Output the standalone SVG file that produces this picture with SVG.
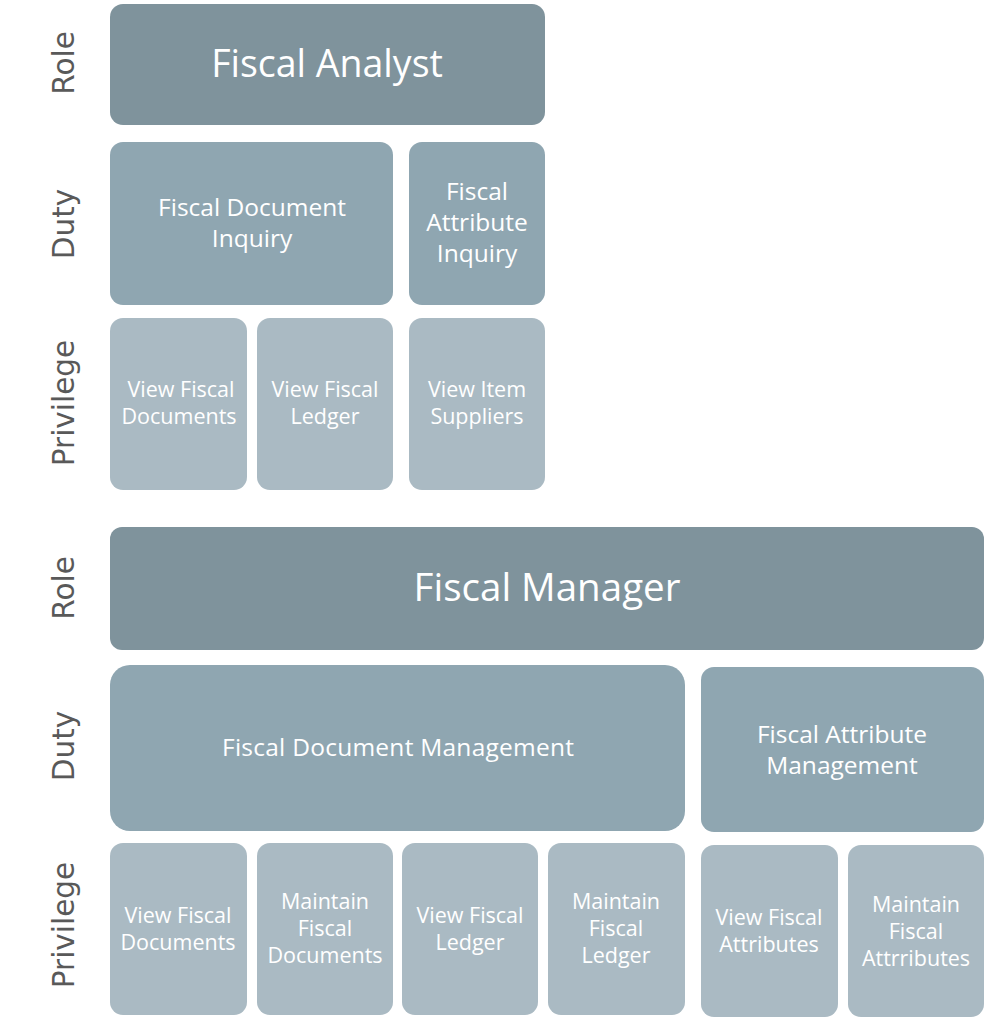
<svg xmlns="http://www.w3.org/2000/svg" width="988" height="1021" viewBox="0 0 988 1021">
<style>
.role{fill:#7f939c}
.duty{fill:#8fa6b1}
.priv{fill:#aabac3}
.t{font-family:"Open Sans","Noto Sans",sans-serif;fill:#ffffff;text-anchor:middle}
.side{font-family:"DejaVu Sans",sans-serif;fill:#595959;font-size:29.5px;text-anchor:middle}
</style>
<rect width="988" height="1021" fill="#ffffff"/>
<g id="side-labels">
<text class="side" transform="translate(74,63) rotate(-90)">Role</text>
<text class="side" transform="translate(74,224) rotate(-90)">Duty</text>
<text class="side" transform="translate(74,403) rotate(-90)">Privilege</text>
<text class="side" transform="translate(74,588) rotate(-90)">Role</text>
<text class="side" transform="translate(74,746) rotate(-90)">Duty</text>
<text class="side" transform="translate(74,925) rotate(-90)">Privilege</text>
</g>
<g id="fiscal-analyst"><rect class="role" x="110" y="4" width="435" height="121" rx="13"/><text class="t" x="327" y="77" font-size="37.5">Fiscal Analyst</text></g>
<g id="fiscal-document-inquiry"><rect class="duty" x="110" y="142" width="283" height="163" rx="13"/><text class="t" font-size="24.5"><tspan x="252" y="216">Fiscal Document</tspan><tspan x="252" y="247">Inquiry</tspan></text></g>
<g id="fiscal-attribute-inquiry"><rect class="duty" x="409" y="142" width="136" height="163" rx="13"/><text class="t" font-size="24.5"><tspan x="477" y="200">Fiscal</tspan><tspan x="477" y="231">Attribute</tspan><tspan x="477" y="262">Inquiry</tspan></text></g>
<g id="a-view-fiscal-documents"><rect class="priv" x="110" y="318" width="137" height="172" rx="13"/><text class="t" font-size="21.5"><tspan x="181" y="397">View Fiscal</tspan><tspan x="179" y="424">Documents</tspan></text></g>
<g id="a-view-fiscal-ledger"><rect class="priv" x="257" y="318" width="136" height="172" rx="13"/><text class="t" font-size="21.5"><tspan x="325" y="397">View Fiscal</tspan><tspan x="325" y="424">Ledger</tspan></text></g>
<g id="a-view-item-suppliers"><rect class="priv" x="409" y="318" width="136" height="172" rx="13"/><text class="t" font-size="21.5"><tspan x="477" y="397">View Item</tspan><tspan x="477" y="424">Suppliers</tspan></text></g>
<g id="fiscal-manager"><rect class="role" x="110" y="527" width="874" height="123" rx="12"/><text class="t" x="547" y="601" font-size="38.5">Fiscal Manager</text></g>
<g id="fiscal-document-management"><rect class="duty" x="110" y="665" width="575" height="166" rx="20"/><text class="t" x="398" y="756" font-size="24.5" textLength="352" lengthAdjust="spacing">Fiscal Document  Management</text></g>
<g id="fiscal-attribute-management"><rect class="duty" x="701" y="667" width="283" height="165" rx="13"/><text class="t" font-size="24.5"><tspan x="842" y="743">Fiscal Attribute</tspan><tspan x="842" y="774">Management</tspan></text></g>
<g id="m-view-fiscal-documents"><rect class="priv" x="110" y="843" width="137" height="172" rx="13"/><text class="t" font-size="21.5"><tspan x="178" y="923">View Fiscal</tspan><tspan x="178" y="950">Documents</tspan></text></g>
<g id="m-maintain-fiscal-documents"><rect class="priv" x="257" y="843" width="136" height="172" rx="13"/><text class="t" font-size="21.5"><tspan x="325" y="909">Maintain</tspan><tspan x="325" y="936">Fiscal</tspan><tspan x="325" y="963">Documents</tspan></text></g>
<g id="m-view-fiscal-ledger"><rect class="priv" x="402" y="843" width="136" height="172" rx="13"/><text class="t" font-size="21.5"><tspan x="470" y="923">View Fiscal</tspan><tspan x="470" y="950">Ledger</tspan></text></g>
<g id="m-maintain-fiscal-ledger"><rect class="priv" x="548" y="843" width="137" height="172" rx="13"/><text class="t" font-size="21.5"><tspan x="616" y="909">Maintain</tspan><tspan x="616" y="936">Fiscal</tspan><tspan x="616" y="963">Ledger</tspan></text></g>
<g id="m-view-fiscal-attributes"><rect class="priv" x="701" y="845" width="137" height="172" rx="13"/><text class="t" font-size="21.5"><tspan x="769" y="925">View Fiscal</tspan><tspan x="769" y="952">Attributes</tspan></text></g>
<g id="m-maintain-fiscal-attrributes"><rect class="priv" x="848" y="845" width="136" height="172" rx="13"/><text class="t" font-size="21.5"><tspan x="916" y="912">Maintain</tspan><tspan x="916" y="939">Fiscal</tspan><tspan x="916" y="966">Attrributes</tspan></text></g>
<g id="connectors"/>
</svg>
